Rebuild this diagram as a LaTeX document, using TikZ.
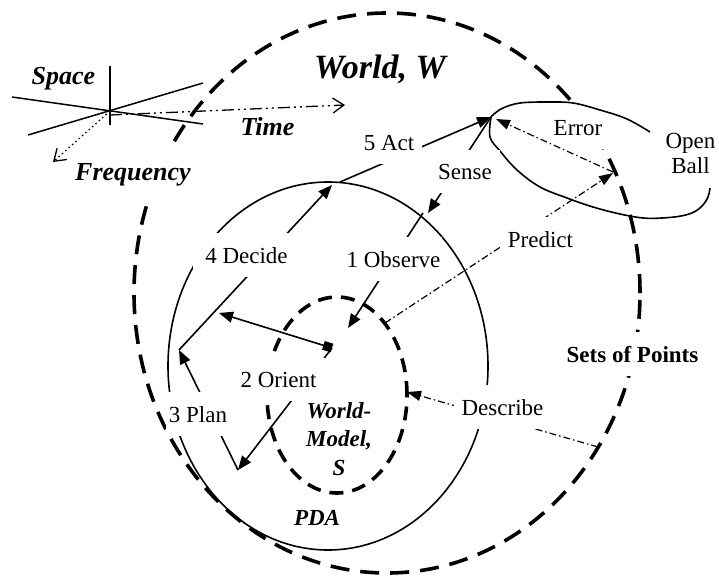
\documentclass[tikz,border=0pt]{standalone}
\usepackage{fontspec}
\setmainfont{Liberation Serif}
\usetikzlibrary{arrows.meta}
\begin{document}
\begin{tikzpicture}[x=1pt,y=-1pt,
  every node/.style={inner sep=0pt},
  txt/.style={font=\fontsize{23}{27}\selectfont},
  bitxt/.style={font=\fontsize{23}{28.5}\selectfont\bfseries\itshape},
  axislbl/.style={font=\fontsize{26}{30}\selectfont\bfseries\itshape},
  lbl/.style={txt, fill=white, inner xsep=8pt, inner ysep=14pt, anchor=base},
  outline/.style={line width=1.6pt},
  bigdash/.style={line width=3.6pt, dash pattern=on 19pt off 11pt},
  smalldash/.style={line width=3.6pt, dash pattern=on 14pt off 9pt},
  solidarrow/.style={line width=1.6pt, -{Triangle[length=14pt,width=11pt]}},
  dashdotarrow/.style={line width=1.2pt, dash pattern=on 7pt off 3pt on 1.5pt off 3pt,
    -{Triangle[length=14pt,width=10pt]}},
  openarrow/.style={-{Straight Barb[length=11pt,width=15pt]}},
]
\useasboundingbox (0,0) rectangle (719,578);

% region centres
\coordinate (worldC) at (387,293);
\coordinate (pdaC)   at (328,366);
\coordinate (modelC) at (337,395);

% the world: big dashed outline
\draw[bigdash] (worldC) ellipse [x radius=253pt, y radius=280pt];

% error label sits over the world outline, under the open ball
\node[lbl] (error) at (578,135) {Error};

% PDA and world model
\draw[outline] (pdaC) ellipse [x radius=160pt, y radius=184pt];
\draw[smalldash] (modelC) ellipse [x radius=70pt, y radius=98pt];

% open ball around the acted-on point
\coordinate (ballTip) at (491,117);
\draw[outline] plot[smooth, tension=0.6] coordinates {(650,132) (627,119) (600,110) (573,103) (547,102) (520,103) (503,108) (494,114) (ballTip)};
\draw[outline] plot[smooth, tension=0.6] coordinates {(ballTip) (490,137) (500,151) (517,170) (540,187) (567,198) (593,207) (620,214) (643,218) (662,218) (681,216) (694,212) (703,205) (708,197) (710,188)};

% space / time / frequency axes
\coordinate (o) at (110,111);
\coordinate (sTop) at (110,66);
\coordinate (sBot) at (110,125);
\coordinate (a1) at (12,97);
\coordinate (a2) at (203,124);
\coordinate (b1) at (28,135);
\coordinate (b2) at (203,83);
\coordinate (timeStart) at (110,115);
\coordinate (timeHead) at (345,105);
\coordinate (freqHead) at (53,162);
\draw[line width=1.5pt] (sTop) -- (sBot);
\draw[line width=1.5pt] (a1) -- (a2);
\draw[line width=1.5pt] (b1) -- (b2);
\draw[line width=1.3pt, dash pattern=on 12pt off 4pt on 2pt off 4pt on 2pt off 4pt, openarrow] (timeStart) -- (timeHead);
\draw[line width=1.3pt, dash pattern=on 1.5pt off 3pt, openarrow] (o) -- (freqHead);

% loop points
\coordinate (actStart)   at (340,182);
\coordinate (decideHead) at (332,185);
\coordinate (planHead)   at (179,350);
\coordinate (orientHead) at (238,470);
\coordinate (core)       at (332,348);
\coordinate (coreLeft)   at (219,313);
\coordinate (senseHead)  at (428,213);
\coordinate (obsStart)   at (423,213);
\coordinate (obsHead)    at (348,328);
\coordinate (predStart)  at (385,323);
\coordinate (predHead)   at (613,173);
\coordinate (errTail)    at (613,172);
\coordinate (errHead)    at (496,119);
\coordinate (descStart)  at (598,447);
\coordinate (descHead)   at (407,392);

% OODA loop connectors
\draw[solidarrow] (actStart) -- (ballTip);
\draw[solidarrow] (ballTip) -- (senseHead);
\draw[solidarrow] (obsStart) -- (obsHead);
\draw[solidarrow, {Square[length=9pt,width=9pt]}-{Triangle[length=14pt,width=11pt]}] (core) -- (coreLeft);
\draw[solidarrow] (core) -- (orientHead);
\draw[solidarrow] (orientHead) -- (planHead);
\draw[solidarrow] (planHead) -- (decideHead);

% model / world relations
\draw[dashdotarrow] (predStart) -- (predHead);
\draw[dashdotarrow] (errTail) -- (errHead);
\draw[dashdotarrow] (descStart) -- (descHead);

% labels
\node[lbl] (act) at (389,150) {5 Act};
\node[lbl] (sense) at (465,179) {Sense};
\node[lbl, inner xsep=2pt] (observe) at (393.5,267) {1 Observe};
\node[lbl, inner xsep=12pt] (decide) at (246.5,263) {4 Decide};
\node[lbl] (orient) at (278.5,387) {2 Orient};
\node[lbl, inner xsep=3pt] (plan) at (198,422) {3 Plan};
\node[lbl] (predict) at (540.5,247) {Predict};
\node[lbl] (describe) at (502.5,415) {Describe};
\node[lbl, font=\fontsize{23}{27}\selectfont\bfseries] (sets) at (632.5,362) {Sets of Points};
\node[txt, align=center, anchor=north, font=\fontsize{23}{25}\selectfont] (openball) at (690.5,133.5) {Open\\Ball};

\node[bitxt, align=center, anchor=north] (model) at (339,402) {World-\\Model,\\S};
\node[bitxt, anchor=base] (pda) at (317,525) {PDA};

\node[font=\fontsize{34}{40}\selectfont\bfseries\itshape, anchor=base] (world) at (380,78) {World, W};
\node[axislbl, anchor=base] (space) at (63.5,84) {Space};
\node[axislbl, anchor=base] (time) at (267.5,135) {Time};
\node[axislbl, anchor=base, fill=white, inner xsep=8pt, inner ysep=14pt] (freq) at (133,180.5) {Frequency};
\end{tikzpicture}
\end{document}
